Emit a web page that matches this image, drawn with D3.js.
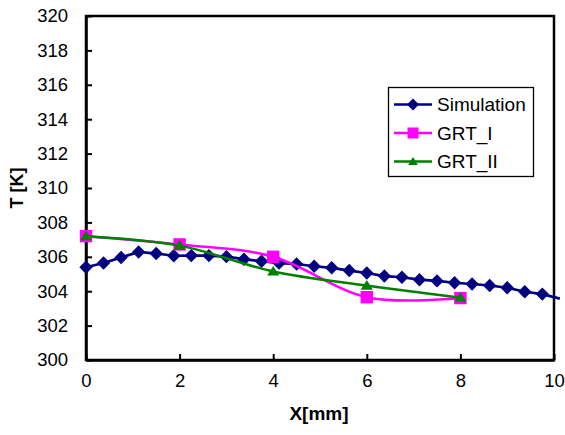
<!DOCTYPE html>
<html>
<head>
<meta charset="utf-8">
<script src="https://cdn.jsdelivr.net/npm/d3@7"></script>
<style>
  html, body { margin: 0; padding: 0; background: #fff; }
  svg { display: block; font-family: "Liberation Sans", Arial, sans-serif; }
</style>
</head>
<body>
<svg id="chart" width="565" height="435"></svg>
<script>
// ---- data ----
const simX = [0, 0.375, 0.75, 1.125, 1.5, 1.875, 2.25, 2.625, 3, 3.375, 3.75, 4.125, 4.5, 4.875,
              5.25, 5.625, 6, 6.375, 6.75, 7.125, 7.5, 7.875, 8.25, 8.625, 9, 9.375, 9.75, 10.125];
const simT = [305.39, 305.64, 305.96, 306.28, 306.19, 306.06, 306.07, 306.07, 306.01, 305.86, 305.74,
              305.63, 305.58, 305.45, 305.36, 305.20, 305.06, 304.88, 304.81, 304.67, 304.60, 304.49,
              304.42, 304.33, 304.20, 303.97, 303.83, 303.57];
const grtX = [0, 2, 4, 6, 8];
const grt1T = [307.2, 306.72, 306.0, 303.65, 303.6];
const grt2T = [307.2, 306.65, 305.15, 304.33, 303.62];
const xTicks = [0, 2, 4, 6, 8, 10];
const yTicks = [300, 302, 304, 306, 308, 310, 312, 314, 316, 318, 320];
const seriesNames = ["Simulation", "GRT_I", "GRT_II"];

// ---- layout ----
const svg = d3.select("#chart");
const L = 86, T = 16, R = 554, B = 360;
const x = d3.scaleLinear().domain([0, 10]).range([L, R]);
const y = d3.scaleLinear().domain([300, 320]).range([B, T]);

const colors = { sim: "#000080", g1: "#FF00FF", g2: "#008000" };

// frame
svg.append("rect").attr("x", L).attr("y", T).attr("width", R - L).attr("height", B - T)
  .attr("fill", "none").attr("stroke", "#000").attr("stroke-width", 2.5);

// axes with inner ticks
const xAxis = d3.axisBottom(x).tickValues(xTicks).tickSizeInner(-6).tickSizeOuter(0).tickPadding(14)
  .tickFormat(d3.format("d"));
const gx = svg.append("g").attr("transform", `translate(0,${B})`).call(xAxis);
const yAxis = d3.axisLeft(y).tickValues(yTicks).tickSizeInner(-6).tickSizeOuter(0).tickPadding(18)
  .tickFormat(d3.format("d"));
const gy = svg.append("g").attr("transform", `translate(${L},0)`).call(yAxis);
[gx, gy].forEach(g => {
  g.select(".domain").attr("stroke", "#000").attr("stroke-width", 2.5);
  g.selectAll(".tick line").attr("stroke", "#000").attr("stroke-width", 2);
  g.selectAll(".tick text").attr("font-size", 18.5).attr("fill", "#000")
    .attr("font-family", "'Liberation Sans', Arial, sans-serif");
});
gx.selectAll(".tick text").attr("dy", "0.71em");

// axis titles
svg.append("text").attr("x", 319).attr("y", 420).attr("text-anchor", "middle")
  .attr("font-size", 19).attr("font-weight", "bold").text("X[mm]");
svg.append("text").attr("transform", "translate(23,188) rotate(-90)").attr("text-anchor", "middle")
  .attr("font-size", 18).attr("font-weight", "bold").text("T [K]");

// markers
const diamond = (s) => `M0,${-s}L${s},0L0,${s}L${-s},0Z`;
const square = (s) => `M${-s},${-s}H${s}V${s}H${-s}Z`;
const triangle = (s) => `M0,${-s}L${s * 1.1},${s * 0.75}L${-s * 1.1},${s * 0.75}Z`;

const line = d3.line().x(d => x(d[0])).y(d => y(d[1]));
const smooth = d3.line().x(d => x(d[0])).y(d => y(d[1])).curve(d3.curveCatmullRom.alpha(0));

const simData = simX.map((v, i) => [v, simT[i]]);
const g1Data = grtX.map((v, i) => [v, grt1T[i]]);
const g2Data = grtX.map((v, i) => [v, grt2T[i]]);

// Simulation
svg.append("path").datum(simData).attr("d", line).attr("fill", "none")
  .attr("stroke", colors.sim).attr("stroke-width", 2.7);
svg.selectAll(".sim").data(simData.filter(d => d[0] <= 10)).enter().append("path")
  .attr("transform", d => `translate(${x(d[0])},${y(d[1])})`)
  .attr("d", diamond(6.7)).attr("fill", colors.sim);

// GRT_I
svg.append("path").datum(g1Data).attr("d", smooth).attr("fill", "none")
  .attr("stroke", colors.g1).attr("stroke-width", 2.5);
svg.selectAll(".g1").data(g1Data).enter().append("path")
  .attr("transform", d => `translate(${x(d[0])},${y(d[1])})`)
  .attr("d", square(6.2)).attr("fill", colors.g1);

// GRT_II
svg.append("path").datum(g2Data).attr("d", smooth).attr("fill", "none")
  .attr("stroke", colors.g2).attr("stroke-width", 2.5);
svg.selectAll(".g2").data(g2Data).enter().append("path")
  .attr("transform", d => `translate(${x(d[0])},${y(d[1])})`)
  .attr("d", triangle(5.5)).attr("fill", colors.g2);

// legend
const lg = svg.append("g");
lg.append("rect").attr("x", 388.5).attr("y", 87.5).attr("width", 145).attr("height", 89)
  .attr("fill", "#fff").attr("stroke", "#000").attr("stroke-width", 1.3);
const legendItems = [
  { name: seriesNames[0], color: colors.sim, shape: diamond(6) },
  { name: seriesNames[1], color: colors.g1, shape: square(5.5) },
  { name: seriesNames[2], color: colors.g2, shape: triangle(4.5) }
];
legendItems.forEach((it, i) => {
  const yy = 104.5 + i * 28.5;
  lg.append("line").attr("x1", 394).attr("x2", 432).attr("y1", yy).attr("y2", yy)
    .attr("stroke", it.color).attr("stroke-width", 2.5);
  lg.append("path").attr("transform", `translate(413,${yy})`).attr("d", it.shape).attr("fill", it.color);
  lg.append("text").attr("x", 437).attr("y", yy).attr("dy", "0.36em")
    .attr("font-size", 19).attr("fill", "#000").text(it.name);
});
</script>
</body>
</html>
